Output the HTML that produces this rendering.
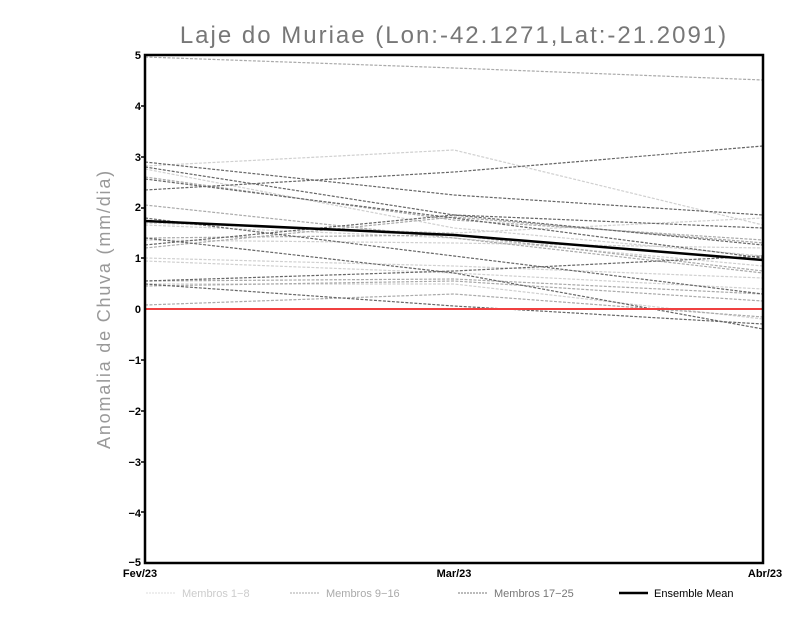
<!DOCTYPE html>
<html><head><style>body{margin:0;background:#fff}svg{display:block}</style></head><body>
<svg width="800" height="618" xmlns="http://www.w3.org/2000/svg" font-family="Liberation Sans, sans-serif">
<rect width="800" height="618" fill="#fff"/>
<text x="454" y="43" font-size="24" fill="#777" text-anchor="middle" letter-spacing="2">Laje do Muriae (Lon:-42.1271,Lat:-21.2091)</text>
<text transform="translate(110,309) rotate(-90)" font-size="18" fill="#999" text-anchor="middle" letter-spacing="1.8">Anomalia de Chuva (mm/dia)</text>
<g id="lines" fill="none" stroke-width="1.2" stroke-dasharray="3,1.5">
<g stroke="#d0d0d0">
<polyline points="145,166 454,150 763,225"/>
<polyline points="145,223 454,233 763,218"/>
<polyline points="145,258 454,266 763,278"/>
<polyline points="145,240 454,243 763,248"/>
<polyline points="145,261 454,273 763,289"/>
<polyline points="145,225 454,238 763,266"/>
<polyline points="145,284 454,284 763,319"/>
<polyline points="145,169 454,228 763,256"/>
</g>
<g stroke="#aaa">
<polyline points="145,57 454,68 763,80"/>
<polyline points="145,177 454,220 763,240"/>
<polyline points="145,238 454,235 763,271"/>
<polyline points="145,281 454,279 763,294"/>
<polyline points="145,248 454,217 763,243"/>
<polyline points="145,286 454,281 763,301"/>
<polyline points="145,205 454,238 763,273"/>
<polyline points="145,305 454,294 763,317"/>
</g>
<g stroke="#666">
<polyline points="145,190 454,172 763,146"/>
<polyline points="145,162 454,195 763,215"/>
<polyline points="145,167 454,215 763,245"/>
<polyline points="145,179 454,218 763,258"/>
<polyline points="145,218 454,256 763,294"/>
<polyline points="145,245 454,215 763,228"/>
<polyline points="145,281 454,271 763,256"/>
<polyline points="145,238 454,273 763,329"/>
<polyline points="145,284 454,306 763,324"/>
</g>
</g>
<line x1="145" y1="309" x2="763" y2="309" stroke="#f04040" stroke-width="2"/>
<polyline points="145,221 454,235 763,260" fill="none" stroke="#000" stroke-width="2.5"/>
<rect x="145" y="55" width="618" height="508" fill="none" stroke="#000" stroke-width="2.5"/>
<g font-size="11" font-weight="bold" text-anchor="end">
<text x="141" y="59">5</text><text x="141" y="110">4</text><text x="141" y="161">3</text><text x="141" y="211">2</text><text x="141" y="262">1</text><text x="141" y="313">0</text><text x="141" y="364">−1</text><text x="141" y="415">−2</text><text x="141" y="466">−3</text><text x="141" y="517">−4</text><text x="141" y="566">−5</text>
</g>
<g stroke="#000" stroke-width="1.5"><line x1="141" y1="106" x2="145" y2="106"/><line x1="141" y1="157" x2="145" y2="157"/><line x1="141" y1="208" x2="145" y2="208"/><line x1="141" y1="258" x2="145" y2="258"/><line x1="141" y1="360" x2="145" y2="360"/><line x1="141" y1="411" x2="145" y2="411"/><line x1="141" y1="462" x2="145" y2="462"/><line x1="141" y1="512" x2="145" y2="512"/></g>
<g font-size="11" font-weight="bold" text-anchor="middle">
<text x="140" y="577">Fev/23</text><text x="454" y="577">Mar/23</text><text x="765" y="577">Abr/23</text>
</g>
<g font-size="11">
<line x1="146" y1="593" x2="176" y2="593" stroke="#ddd" stroke-dasharray="2,1"/><text x="182" y="597" fill="#ccc">Membros 1−8</text>
<line x1="290" y1="593" x2="320" y2="593" stroke="#aaa" stroke-dasharray="2,1"/><text x="326" y="597" fill="#aaa">Membros 9−16</text>
<line x1="458" y1="593" x2="488" y2="593" stroke="#777" stroke-dasharray="2,1"/><text x="494" y="597" fill="#777">Membros 17−25</text>
<line x1="619" y1="593" x2="648" y2="593" stroke="#000" stroke-width="2.5"/><text x="654" y="597" fill="#000">Ensemble Mean</text>
</g>
</svg>
</body></html>
